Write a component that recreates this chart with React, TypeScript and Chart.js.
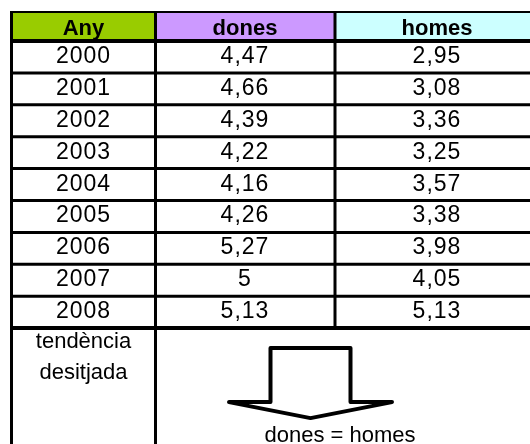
import { useEffect, useRef } from "react";
import { Chart, registerables } from "chart.js";

Chart.register(...registerables);

// ---- data ----
const headers = ["Any", "dones", "homes"];
const headerColors = ["#99CC00", "#CC99FF", "#CCFFFF"];
const years = ["2000", "2001", "2002", "2003", "2004", "2005", "2006", "2007", "2008"];
const dones = [4.47, 4.66, 4.39, 4.22, 4.16, 4.26, 5.27, 5, 5.13];
const homes = [2.95, 3.08, 3.36, 3.25, 3.57, 3.38, 3.98, 4.05, 5.13];
const trendLabel = ["tendència", "desitjada"];
const trendText = "dones = homes";

// ---- layout (scale units) ----
const colEdges = [11.5, 155.5, 335, 540];
const colCenters = [83.5, 245, 437];
const headerTop = 0.09; // row units
const bottomStart = 10; // row index where merged section begins
const FONT = "'Liberation Sans', Arial, sans-serif";

const fmt = (v: number) => String(v).replace(".", ",");

const tablePlugin = {
  id: "tablePlugin",
  afterDraw(chart: any) {
    const { ctx } = chart;
    const xs = chart.scales.x;
    const ys = chart.scales.y;
    const X = (v: number) => xs.getPixelForValue(v);
    const Y = (v: number) => ys.getPixelForValue(v);
    const bottom = chart.chartArea.bottom;
    ctx.save();

    // header backgrounds
    headerColors.forEach((c, i) => {
      ctx.fillStyle = c;
      ctx.fillRect(X(colEdges[i]), Y(headerTop), X(colEdges[i + 1]) - X(colEdges[i]), Y(1) - Y(headerTop));
    });

    // header text
    ctx.fillStyle = "#000";
    ctx.textAlign = "center";
    ctx.textBaseline = "alphabetic";
    ctx.font = `bold 22px ${FONT}`;
    (ctx as any).letterSpacing = "0px";
    headers.forEach((h, i) => {
      ctx.fillText(h, X(colCenters[i]), Y(1) - 6);
    });

    // body text from dataset elements
    ctx.font = `23px ${FONT}`;
    (ctx as any).letterSpacing = "1px";
    chart.data.datasets.forEach((ds: any, di: number) => {
      const meta = chart.getDatasetMeta(di);
      meta.data.forEach((el: any, i: number) => {
        ctx.fillText(ds.texts[i], el.x, el.y + 6);
      });
    });

    // bottom section texts
    ctx.font = `22px ${FONT}`;
    (ctx as any).letterSpacing = "0px";
    const bTop = Y(bottomStart);
    ctx.fillText(trendLabel[0], X(colCenters[0]), bTop + 20);
    ctx.fillText(trendLabel[1], X(colCenters[0]), bTop + 51);
    ctx.fillText(trendText, X(340), bTop + 114);

    // arrow
    const ax = X(310.5);
    ctx.beginPath();
    ctx.moveTo(ax - 81.5, bTop + 74);
    ctx.lineTo(ax - 40, bTop + 74);
    ctx.lineTo(ax - 40, bTop + 20);
    ctx.lineTo(ax + 40, bTop + 20);
    ctx.lineTo(ax + 40, bTop + 74);
    ctx.lineTo(ax + 81.5, bTop + 74);
    ctx.lineTo(ax, bTop + 90);
    ctx.closePath();
    ctx.lineWidth = 4;
    ctx.lineJoin = "round";
    ctx.strokeStyle = "#000";
    ctx.stroke();

    // grid lines
    ctx.lineJoin = "miter";
    const hline = (v: number, w: number, x0: number, x1: number) => {
      ctx.lineWidth = w;
      ctx.beginPath();
      ctx.moveTo(x0, Y(v));
      ctx.lineTo(x1, Y(v));
      ctx.stroke();
    };
    const vline = (xv: number, w: number, y0: number, y1: number) => {
      ctx.lineWidth = w;
      ctx.beginPath();
      ctx.moveTo(X(xv), y0);
      ctx.lineTo(X(xv), y1);
      ctx.stroke();
    };
    const left = X(colEdges[0]) - 1.5;
    const right = X(colEdges[3]);
    hline(headerTop, 2, left, right);
    for (let r = 1; r <= bottomStart; r++) {
      hline(r, r === 1 || r === bottomStart ? 4 : 3, left, right);
    }
    vline(colEdges[0], 3, Y(headerTop) - 1, bottom);
    vline(colEdges[1], 3, Y(headerTop) - 1, bottom);
    vline(colEdges[2], 3, Y(headerTop) - 1, Y(bottomStart));

    ctx.restore();
  },
};

export default function App() {
  const ref = useRef<HTMLCanvasElement>(null);
  useEffect(() => {
    if (!ref.current) return;
    const rowCenter = (i: number) => i + 1.5;
    const chart = new Chart(ref.current, {
      type: "scatter",
      data: {
        datasets: [
          {
            label: "Any",
            data: years.map((_, i) => ({ x: colCenters[0], y: rowCenter(i) })),
            texts: years,
            pointRadius: 0,
          } as any,
          {
            label: "dones",
            data: dones.map((_, i) => ({ x: colCenters[1], y: rowCenter(i) })),
            texts: dones.map(fmt),
            pointRadius: 0,
          } as any,
          {
            label: "homes",
            data: homes.map((_, i) => ({ x: colCenters[2], y: rowCenter(i) })),
            texts: homes.map(fmt),
            pointRadius: 0,
          } as any,
        ],
      },
      options: {
        animation: false,
        responsive: false,
        devicePixelRatio: 1,
        layout: { padding: 0 },
        plugins: { legend: { display: false }, tooltip: { enabled: false } },
        scales: {
          x: { type: "linear", min: 0, max: 530, display: false },
          y: { type: "linear", min: 1 - 41 / 31.9, max: 1 + 403 / 31.9, reverse: true, display: false },
        },
      },
      plugins: [tablePlugin],
    });
    return () => chart.destroy();
  }, []);
  return (
    <div style={{ position: "absolute", left: 0, top: 0, width: 530, height: 444, background: "#fff" }}>
      <canvas ref={ref} width={530} height={444} style={{ display: "block", width: 530, height: 444 }} />
    </div>
  );
}
